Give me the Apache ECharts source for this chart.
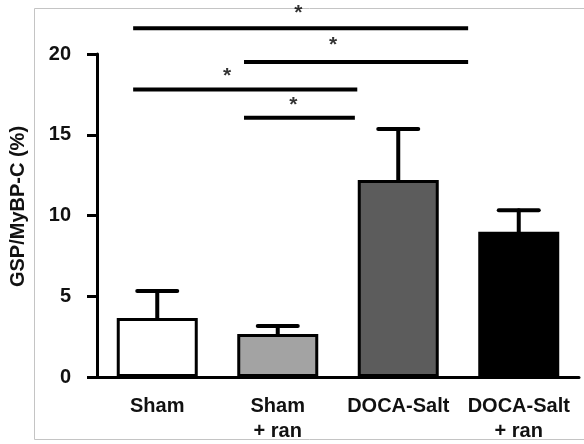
<!DOCTYPE html>
<html><head><meta charset="utf-8">
<script src="https://cdn.jsdelivr.net/npm/echarts@6/dist/echarts.min.js"></script>
<style>html,body{margin:0;padding:0;background:#fff}#c{width:584px;height:444px}</style>
</head><body><div id="c"></div>
<script>
// ---- data ----
var categories = ['Sham', 'Sham\n+ ran', 'DOCA-Salt', 'DOCA-Salt\n+ ran'];
var means = [3.65, 2.66, 12.2, 9.0];
var sem = [1.68, 0.5, 3.15, 1.33];
var barColors = ['#ffffff', '#a3a3a3', '#5c5c5c', '#000000'];
var yTicks = [0, 5, 10, 15, 20];
// significance brackets: [from (category units), to, level]
var sigFrom = [-0.2, 0.72, -0.2, 0.72];
var sigTo = [2.58, 2.58, 1.66, 1.64];
var sigLevel = [21.6, 19.5, 17.8, 16.05];
// star markers: [x (category units), level]
var starX = [1.17, 1.46, 0.58, 1.13];
var starY = [22.55, 20.55, 18.65, 16.85];
var starText = ['*', '*', '*', '*'];

var FONT = '"Liberation Sans", Arial, sans-serif';
var chart = echarts.init(document.getElementById('c'));

var series = [];
series.push({
  type: 'bar', xAxisIndex: 0, yAxisIndex: 0, barWidth: 81,
  data: means.map(function (v, i) {
    return { value: v, itemStyle: { color: barColors[i], borderColor: '#000', borderWidth: 3 } };
  }),
  z: 3
});
series.push({
  type: 'custom', xAxisIndex: 0, yAxisIndex: 0, z: 2,
  data: means.map(function (v, i) { return [i, v, sem[i]]; }),
  encode: { x: 0, y: 1 },
  renderItem: function (params, api) {
    var x = api.value(0), y = api.value(1), e = api.value(2);
    var p0 = api.coord([x, y]);
    var p1 = api.coord([x, y + e]);
    var st = { stroke: '#000', lineWidth: 4, lineCap: 'round' };
    return { type: 'group', children: [
      { type: 'line', shape: { x1: p0[0], y1: p0[1], x2: p1[0], y2: p1[1] }, style: st },
      { type: 'line', shape: { x1: p1[0] - 20, y1: p1[1], x2: p1[0] + 20, y2: p1[1] }, style: st }
    ] };
  }
});
for (var k = 0; k < sigFrom.length; k++) {
  series.push({
    type: 'line', xAxisIndex: 1, yAxisIndex: 0, clip: false, symbol: 'none', silent: true,
    lineStyle: { color: '#000', width: 4 },
    data: [[sigFrom[k], sigLevel[k]], [sigTo[k], sigLevel[k]]]
  });
}
series.push({
  type: 'scatter', xAxisIndex: 1, yAxisIndex: 0, clip: false, symbolSize: 0,
  itemStyle: { color: 'rgba(0,0,0,0)' },
  data: starX.map(function (x, i) { return { value: [x, starY[i]], label: { formatter: starText[i] } }; }),
  label: { show: true, position: 'inside', color: '#000', fontSize: 21, fontWeight: 'bold', fontFamily: FONT }
});

chart.setOption({
  animation: false,
  backgroundColor: '#fff',
  graphic: [{ type: 'rect', shape: { x: 34.5, y: 8.5, width: 600, height: 431 },
    style: { fill: 'none', stroke: '#c4c4c4', lineWidth: 1 }, silent: true, z: -1 }],
  grid: { left: 92, right: 5, top: 54, bottom: 66, containLabel: false },
  xAxis: [{
    type: 'category', data: categories, boundaryGap: true,
    axisLine: { lineStyle: { color: '#000', width: 3 } },
    axisTick: { alignWithLabel: true, length: 9, lineStyle: { color: '#000', width: 3 } },
    axisLabel: { color: '#111', fontSize: 20, fontWeight: 'bold', fontFamily: FONT, margin: 17, lineHeight: 25, interval: 0 },
    splitLine: { show: false }
  }, {
    type: 'value', show: false, min: -0.5, max: 3.5
  }],
  yAxis: [{
    type: 'value', min: 0, max: 20, interval: 5,
    name: 'GSP/MyBP-C (%)', nameLocation: 'middle', nameRotate: 90, nameGap: 69,
    nameTextStyle: { color: '#111', fontSize: 20, fontWeight: 'bold', fontFamily: FONT, padding: [0, 0, 0, 18] },
    axisLine: { show: true, onZero: false, lineStyle: { color: '#000', width: 3 } },
    axisTick: { show: true, length: 10, lineStyle: { color: '#000', width: 3 } },
    axisLabel: { color: '#111', fontSize: 20, fontWeight: 'bold', fontFamily: FONT, margin: 26,
      formatter: function (v) { return yTicks.indexOf(v) >= 0 ? String(v) : ''; } },
    splitLine: { show: false }
  }],
  series: series
});
</script></body></html>
